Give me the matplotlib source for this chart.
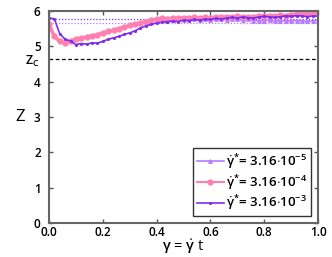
import numpy as np
import matplotlib
matplotlib.use("Agg")
import matplotlib.pyplot as plt

plt.rcParams['font.family'] = ['Open Sans', 'DejaVu Sans']
plt.rcParams['font.weight'] = 'semibold'
plt.rcParams['mathtext.fontset'] = 'custom'
plt.rcParams['mathtext.rm'] = 'Open Sans:semibold'
plt.rcParams['mathtext.it'] = 'Open Sans:semibold'

# strain values (shared grid)
strain = np.round(np.arange(0, 1.0001, 0.02), 2)

# gamma_dot* = 3.16e-3 (purple, small dots)
z_fast = [5.80, 5.78, 5.35, 5.20, 5.15, 5.05, 5.08, 5.06, 5.10, 5.09,
          5.14, 5.20, 5.24, 5.28, 5.34, 5.38, 5.44, 5.52, 5.58, 5.62,
          5.66, 5.68, 5.70, 5.71, 5.70, 5.74, 5.73, 5.76, 5.74, 5.77,
          5.76, 5.79, 5.77, 5.80, 5.82, 5.80, 5.83, 5.81, 5.80, 5.83,
          5.85, 5.83, 5.82, 5.84, 5.86, 5.85, 5.87, 5.86, 5.84, 5.86, 5.85]

# gamma_dot* = 3.16e-4 (pink, circles)
z_mid = [5.62, 5.28, 5.14, 5.09, 5.14, 5.21, 5.23, 5.27, 5.30, 5.33,
         5.38, 5.42, 5.46, 5.50, 5.55, 5.59, 5.63, 5.67, 5.70, 5.74,
         5.77, 5.79, 5.78, 5.80, 5.79, 5.81, 5.80, 5.82, 5.80, 5.83,
         5.81, 5.83, 5.82, 5.84, 5.83, 5.85, 5.84, 5.82, 5.84, 5.86,
         5.85, 5.87, 5.86, 5.88, 5.87, 5.90, 5.91, 5.93, 5.92, 5.94, 5.93]

# gamma_dot* = 3.16e-5 (lavender, triangles), only from strain 0.4
strain_slow = np.round(np.arange(0.4, 1.0001, 0.02), 2)
z_slow = [5.74, 5.76, 5.73, 5.75, 5.77, 5.74, 5.76, 5.78, 5.75, 5.77,
          5.74, 5.76, 5.78, 5.75, 5.77, 5.76, 5.74, 5.76, 5.73, 5.72,
          5.73, 5.74, 5.71, 5.73, 5.72, 5.72, 5.73, 5.72, 5.71, 5.72, 5.73]

# reference levels
z_c = 4.65
z_avg_fast = 5.77
z_avg_slow = 5.67

c_slow = '#b77cff'
c_mid = '#ff7fb0'
c_fast = '#7a2ef0'

fig = plt.figure(figsize=(3.32, 2.57), dpi=100)
ax = fig.add_axes([0.1476, 0.1323, 0.8104, 0.8249])

ax.axhline(z_c, color='black', ls=(0, (3, 2)), lw=0.9)
ax.axhline(z_avg_fast, color=c_fast, ls=(0, (1, 1.5)), lw=0.9)
ax.axhline(z_avg_slow, color=c_slow, ls=(0, (1, 1.5)), lw=0.9)

ax.plot(strain_slow, z_slow, color=c_slow, marker='^', ms=2.5, lw=1.2,
        label=r'$\dot{\gamma}^{*}$= 3.16$\cdot$10$^{-5}$')
ax.plot(strain, z_mid, color=c_mid, marker='o', ms=3.5, lw=2.5,
        label=r'$\dot{\gamma}^{*}$= 3.16$\cdot$10$^{-4}$')
ax.plot(strain, z_fast, color=c_fast, marker='.', ms=2.5, lw=1.2,
        label=r'$\dot{\gamma}^{*}$= 3.16$\cdot$10$^{-3}$')

ax.set_xlim(0, 1)
ax.set_ylim(0, 6)
ax.set_xticks([0.0, 0.2, 0.4, 0.6, 0.8, 1.0])
ax.set_xticklabels(['0.0', '0.2', '0.4', '0.6', '0.8', '1.0'])
ax.set_yticks([0, 1, 2, 3, 4, 5, 6])
ax.tick_params(axis='x', pad=2)
ax.tick_params(axis='y', pad=6)
ax.tick_params(direction='in', top=True, right=True, length=3, width=1,
               color='#555555', labelsize=8.5)
for s in ax.spines.values():
    s.set_color('#666666')
    s.set_linewidth(1.5)

ax.text(-0.035, z_c - 0.08, r'Z$_\mathrm{C}$', ha='right', va='center',
        fontsize=9, transform=ax.get_yaxis_transform())
ax.set_ylabel('Z', fontsize=12, rotation=0, labelpad=10, va='center')
ax.set_xlabel(r'$\gamma$ = $\dot{\gamma}$ t', fontsize=10.5, labelpad=-1)

leg = ax.legend(loc='lower right', fontsize=9.5, frameon=True, fancybox=False,
                edgecolor='black', handlelength=2.0, handletextpad=0.2,
                borderpad=0.3, labelspacing=0.15, borderaxespad=0.5)
leg.get_frame().set_linewidth(1.0)
leg.get_lines()[1].set_linewidth(1.5)

fig.savefig('out.png', dpi=100)
